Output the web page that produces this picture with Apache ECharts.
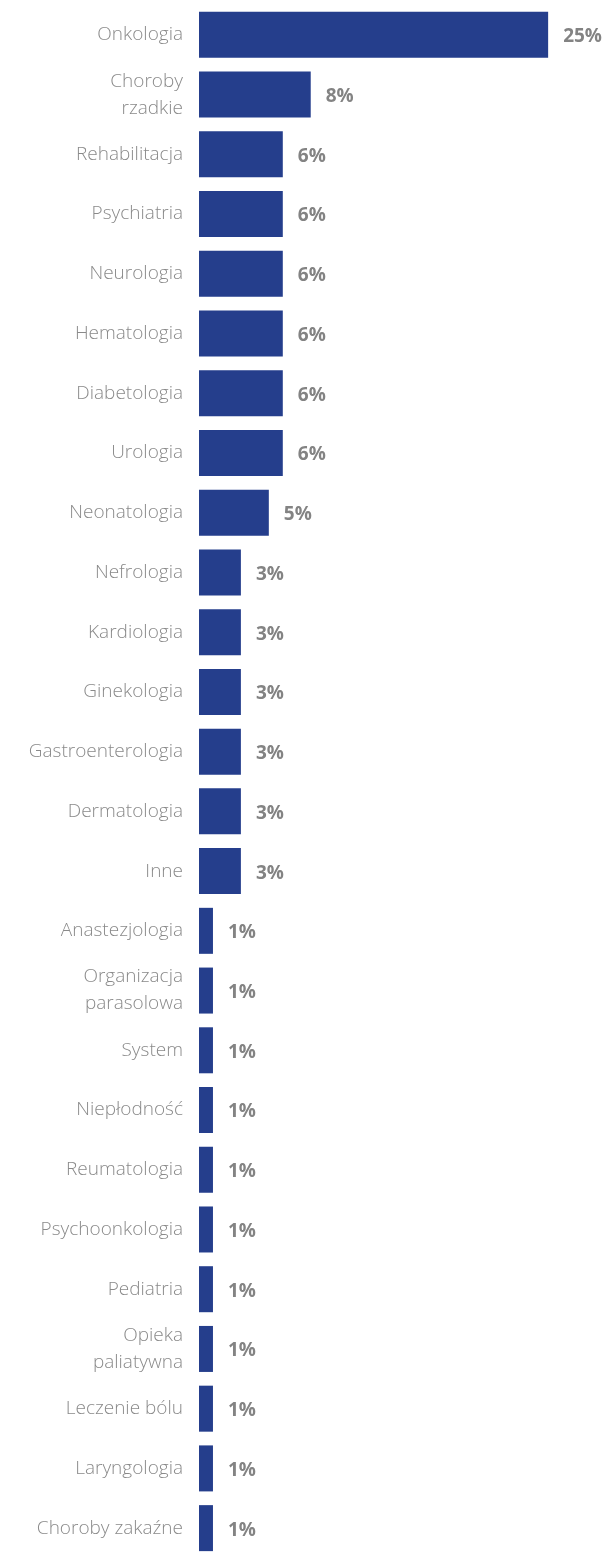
<!DOCTYPE html>
<html>
<head>
<meta charset="utf-8">
<script src="https://cdn.jsdelivr.net/npm/echarts@6/dist/echarts.min.js"></script>
<style>
  html, body { margin: 0; padding: 0; background: #fff; }
  #chart { width: 608px; height: 1558px; }
</style>
</head>
<body>
<div id="chart"></div>
<script>
// Share of entries per medical field (%)
const categories = [
  'Onkologia', 'Choroby\nrzadkie', 'Rehabilitacja', 'Psychiatria', 'Neurologia',
  'Hematologia', 'Diabetologia', 'Urologia', 'Neonatologia', 'Nefrologia',
  'Kardiologia', 'Ginekologia', 'Gastroenterologia', 'Dermatologia', 'Inne',
  'Anastezjologia', 'Organizacja\nparasolowa', 'System', 'Niepłodność', 'Reumatologia',
  'Psychoonkologia', 'Pediatria', 'Opieka\npaliatywna', 'Leczenie bólu', 'Laryngologia',
  'Choroby zakaźne'
];
const values = [
  25, 8, 6, 6, 6,
  6, 6, 6, 5, 3,
  3, 3, 3, 3, 3,
  1, 1, 1, 1, 1,
  1, 1, 1, 1, 1,
  1
];

const chart = echarts.init(document.getElementById('chart'));
chart.setOption({
  animation: false,
  grid: { left: 199, top: 5, width: 405, height: 1565, containLabel: false },
  xAxis: {
    type: 'value', min: 0, max: 29,
    show: false
  },
  yAxis: {
    type: 'category',
    inverse: true,
    data: categories,
    axisLine: { show: false },
    axisTick: { show: false },
    axisLabel: {
      margin: 16,
      color: '#8a8a8a',
      fontFamily: 'Open Sans',
      fontWeight: 300,
      fontSize: 19,
      lineHeight: 27
    }
  },
  series: [{
    type: 'bar',
    data: values,
    barWidth: 46,
    itemStyle: { color: '#253e8c' },
    label: {
      show: true,
      position: 'right',
      distance: 15,
      offset: [0, 2],
      formatter: '{c}%',
      color: '#838383',
      fontFamily: 'Open Sans',
      fontWeight: 'bold',
      fontSize: 19
    }
  }]
});
</script>
</body>
</html>
